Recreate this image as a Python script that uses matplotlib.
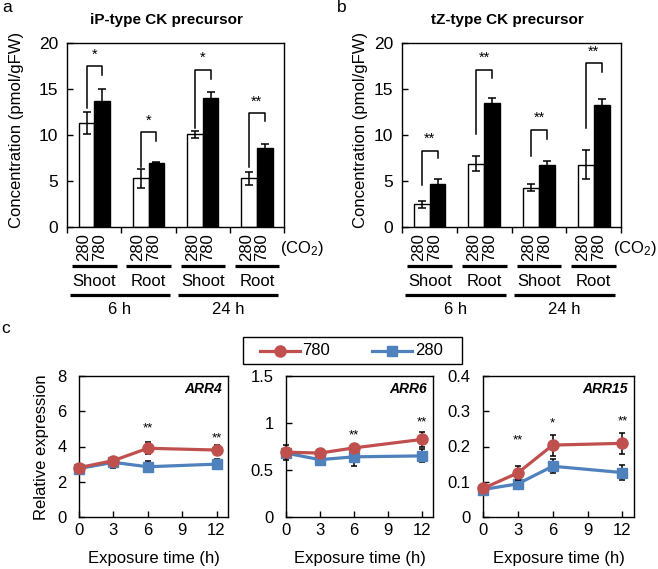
import matplotlib
matplotlib.use('Agg')
import matplotlib.pyplot as plt
import matplotlib.transforms as mtransforms
from matplotlib.lines import Line2D
from matplotlib.patches import Rectangle
import numpy as np

plt.rcParams['font.family'] = ['Liberation Sans', 'DejaVu Sans']
plt.rcParams['mathtext.fontset'] = 'custom'
plt.rcParams['mathtext.rm'] = 'Liberation Sans'
plt.rcParams['mathtext.it'] = 'Liberation Sans:italic'
plt.rcParams['mathtext.bf'] = 'Liberation Sans:bold'

# ---------------- data ----------------
tissues = ['Shoot', 'Root', 'Shoot', 'Root']
times_ab = ['6 h', '24 h']
co2_levels = ['280', '780']

# panel a: iP-type CK precursor
a_280 = [11.3, 5.3, 10.1, 5.3]
a_280_err = [1.2, 1.0, 0.4, 0.7]
a_780 = [13.7, 7.0, 14.0, 8.6]
a_780_err = [1.3, 0.05, 0.7, 0.4]
a_sig = ['*', '*', '*', '**']
a_br_top = [17.5, 10.35, 17.1, 12.4]
a_br_left = [12.9, 6.5, 10.8, 6.5]
a_br_right = [16.5, 9.4, 16.1, 11.5]

# panel b: tZ-type CK precursor
b_280 = [2.5, 6.9, 4.3, 6.8]
b_280_err = [0.4, 0.8, 0.35, 1.6]
b_780 = [4.75, 13.5, 6.8, 13.3]
b_780_err = [0.5, 0.5, 0.35, 0.6]
b_sig = ['**', '**', '**', '**']
b_br_top = [8.3, 17.1, 10.6, 17.8]
b_br_left = [4.6, 10.1, 7.75, 10.8]
b_br_right = [7.5, 16.2, 9.6, 16.9]

# panel c: relative expression
hours = [0, 3, 6, 12]
genes = ['ARR4', 'ARR6', 'ARR15']
arr4_780 = [2.8, 3.2, 3.9, 3.8]
arr4_780_err = [0.1, 0.15, 0.35, 0.28]
arr4_280 = [2.75, 3.1, 2.85, 3.0]
arr4_280_err = [0.1, 0.3, 0.3, 0.3]
arr4_sig = ['', '', '**', '**']
arr4_sig_y = [0, 0, 5.2, 4.65]

arr6_780 = [0.69, 0.68, 0.735, 0.825]
arr6_780_err = [0.08, 0.03, 0.03, 0.08]
arr6_280 = [0.68, 0.61, 0.64, 0.65]
arr6_280_err = [0.03, 0.055, 0.095, 0.07]
arr6_sig = ['', '', '**', '**']
arr6_sig_y = [0, 0, 0.905, 1.04]

arr15_780 = [0.081, 0.125, 0.204, 0.209]
arr15_780_err = [0.008, 0.02, 0.03, 0.03]
arr15_280 = [0.078, 0.094, 0.144, 0.126]
arr15_280_err = [0.01, 0.015, 0.02, 0.022]
arr15_sig = ['', '**', '*', '**']
arr15_sig_y = [0, 0.227, 0.275, 0.28]

RED = '#C0504D'
BLUE = '#4F81BD'

W, H = 658, 569
fig = plt.figure(figsize=(W / 100, H / 100), dpi=100)


def fx(px):
    return px / W


def fy(py):
    return 1 - py / H


def box(l, t, r, b):
    return [fx(l), fy(b), (r - l) / W, (b - t) / H]


def bar_panel(rect, v280, e280, v780, e780, sig, br_top, br_left, br_right,
              title, title_x, letter, letter_x, ylabel_x, co2_x):
    ax = fig.add_axes(box(*rect))
    n = len(v280)
    x = np.arange(n) + 0.5
    w = 0.29
    xw = x - w / 2
    xb = x + w / 2
    ax.bar(xw, v280, w, color='white', edgecolor='black', lw=1.0, zorder=2)
    ax.bar(xb, v780, w, color='black', edgecolor='black', lw=1.0, zorder=2)
    ax.errorbar(xw, v280, yerr=e280, fmt='none', ecolor='black', elinewidth=1.1,
                capsize=2.6, capthick=1.1, zorder=3)
    ax.errorbar(xb, v780, yerr=e780, fmt='none', ecolor='black', elinewidth=1.1,
                capsize=2.6, capthick=1.1, zorder=1)
    for i in range(n):
        ax.plot([xw[i], xw[i], xb[i], xb[i]],
                [br_left[i], br_top[i], br_top[i], br_right[i]],
                color='black', lw=1.1, zorder=3)
        ax.annotate(sig[i], xy=(x[i], br_top[i]), xytext=(0, 5.5),
                    textcoords='offset points', ha='center', va='baseline',
                    fontsize=10.5)
    ax.set_xlim(0, n)
    ax.set_ylim(0, 20)
    ax.set_yticks([0, 5, 10, 15, 20])
    ax.set_xticks(np.arange(n + 1))
    ax.set_xticklabels([])
    ax.tick_params(axis='y', direction='in', length=4, labelsize=12.5, pad=6.5, width=1.0)
    ax.tick_params(axis='x', direction='out', length=4, width=1.0)
    for s in ax.spines.values():
        s.set_linewidth(1.0)

    trans = mtransforms.blended_transform_factory(ax.transData, fig.transFigure)
    for i in range(n):
        ax.text(xw[i] - 0.05, fy(247.5), co2_levels[0], rotation=90, ha='center',
                va='center', fontsize=12, transform=trans)
        ax.text(xb[i] - 0.05, fy(247.5), co2_levels[1], rotation=90, ha='center',
                va='center', fontsize=12, transform=trans)
        ax.add_line(Line2D([i + 0.09, i + 0.91], [fy(266)] * 2, transform=trans,
                           color='black', lw=2.3, clip_on=False, solid_capstyle='butt'))
        ax.text(i + 0.5, fy(281), tissues[i], ha='center', va='center',
                fontsize=12, transform=trans)
    for j, lab in enumerate(times_ab):
        x0, x1 = 2 * j + 0.05, 2 * j + 1.89
        ax.add_line(Line2D([x0, x1], [fy(295)] * 2, transform=trans,
                           color='black', lw=2.3, clip_on=False, solid_capstyle='butt'))
        ax.text((x0 + x1) / 2, fy(310), lab, ha='center', va='center',
                fontsize=12, transform=trans)
    fig.text(fx(co2_x), fy(248), '(CO$_2$)', ha='left', va='center', fontsize=12)
    fig.text(fx(title_x), fy(20), title, ha='center', va='center', fontsize=11,
             fontweight='bold')
    fig.text(fx(letter_x), fy(12), letter, ha='left', va='baseline', fontsize=12.5)
    fig.text(fx(ylabel_x), fy(130), 'Concentration (pmol/gFW)', rotation=90,
             ha='center', va='center', fontsize=12)
    return ax


bar_panel((67.3, 43, 284, 227.3), a_280, a_280_err, a_780, a_780_err, a_sig,
          a_br_top, a_br_left, a_br_right, 'iP-type CK precursor', 166, 'a', 2, 17, 280)
bar_panel((402.3, 43, 621, 227.3), b_280, b_280_err, b_780, b_780_err, b_sig,
          b_br_top, b_br_left, b_br_right, 'tZ-type CK precursor', 507, 'b', 337, 361, 613)

# ---------------- panel c ----------------
line_specs = [
    ((79, 376, 228, 517), 'ARR4', arr4_780, arr4_780_err, arr4_280, arr4_280_err,
     arr4_sig, arr4_sig_y, (0, 8), [0, 2, 4, 6, 8], ['0', '2', '4', '6', '8']),
    ((286, 376, 433, 517), 'ARR6', arr6_780, arr6_780_err, arr6_280, arr6_280_err,
     arr6_sig, arr6_sig_y, (0, 1.5), [0, 0.5, 1, 1.5], ['0', '0.5', '1', '1.5']),
    ((483, 376, 634, 517), 'ARR15', arr15_780, arr15_780_err, arr15_280, arr15_280_err,
     arr15_sig, arr15_sig_y, (0, 0.4), [0, 0.1, 0.2, 0.3, 0.4],
     ['0', '0.1', '0.2', '0.3', '0.4']),
]

axes_c = []
for rect, gene, r, re, b, be, sg, sgy, ylim, yt, ytl in line_specs:
    ax = fig.add_axes(box(*rect))
    axes_c.append(ax)
    ax.errorbar(hours, b, yerr=be, fmt='none', ecolor='black', elinewidth=1.1,
                capsize=2.2, capthick=1.1, zorder=2, clip_on=False)
    ax.plot(hours, b, color=BLUE, lw=2.3, marker='s', ms=7.5, zorder=3, clip_on=False)
    ax.errorbar(hours, r, yerr=re, fmt='none', ecolor='black', elinewidth=1.1,
                capsize=2.2, capthick=1.1, zorder=4, clip_on=False)
    ax.plot(hours, r, color=RED, lw=2.3, marker='o', ms=8, zorder=5, clip_on=False)
    for t, s, yy in zip(hours, sg, sgy):
        if s:
            ax.annotate(s, xy=(t, yy), xytext=(0, -4.5), textcoords='offset points',
                        ha='center', va='baseline', fontsize=9.5)
    ax.text(1, 1, gene, transform=ax.transAxes + mtransforms.ScaledTranslation(
        -6 / 100, -13 / 100, fig.dpi_scale_trans), ha='right', va='center',
        fontsize=10, fontweight='bold', fontstyle='italic')
    ax.set_xlim(0, 13)
    ax.set_ylim(*ylim)
    ax.set_xticks([0, 3, 6, 9, 12])
    ax.set_yticks(yt)
    ax.set_yticklabels(ytl)
    ax.tick_params(axis='both', direction='in', length=4, labelsize=12, width=1.0)
    ax.tick_params(axis='y', pad=9)
    ax.tick_params(axis='x', pad=4)
    for s in ax.spines.values():
        s.set_linewidth(1.0)
    l, t, rr, bb = rect
    fig.text(fx((l + rr) / 2), fy(558), 'Exposure time (h)', ha='center', va='center',
             fontsize=12)

fig.text(fx(42), fy(447), 'Relative expression', rotation=90, ha='center',
         va='center', fontsize=12)
fig.text(fx(1), fy(333), 'c', ha='left', va='baseline', fontsize=12.5)

# legend (drawn in figure pixel space)
ftr = fig.transFigure
fig.add_artist(Rectangle((fx(243), fy(364)), (462 - 243) / W, (364 - 337) / H,
                         transform=ftr, facecolor='white', edgecolor='black', lw=1.0))
fig.add_artist(Line2D([fx(260), fx(280), fx(300)], [fy(350.5)] * 3, transform=ftr,
                      color=RED, lw=2.3, marker='o', ms=8, markevery=[1]))
fig.text(fx(302), fy(350.5), '780', ha='left', va='center', fontsize=12)
fig.add_artist(Line2D([fx(372), fx(392), fx(412)], [fy(350.5)] * 3, transform=ftr,
                      color=BLUE, lw=2.3, marker='s', ms=7.5, markevery=[1]))
fig.text(fx(415), fy(350.5), '280', ha='left', va='center', fontsize=12)

fig.savefig('out.png', dpi=100)
